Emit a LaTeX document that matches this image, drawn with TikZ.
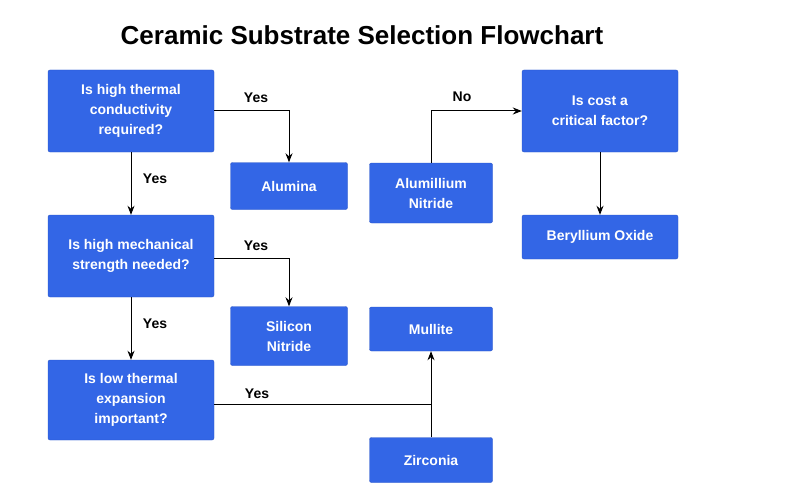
\documentclass[tikz,border=0pt]{standalone}
\usepackage{fontspec}
\setmainfont{Liberation Sans}
\usetikzlibrary{positioning,arrows.meta}
\definecolor{boxblue}{HTML}{3366E6}
\definecolor{boxedge}{HTML}{2A55C8}
\tikzset{
	box/.style={draw=boxedge, fill=boxblue, rounded corners=2pt, text=white, align=center,
		font=\fontsize{14}{20}\selectfont\bfseries, inner sep=2pt},
	arr/.style={-{Stealth[length=9pt,width=7pt]}, line width=1pt},
	lin/.style={line width=1pt},
	lbl/.style={font=\fontsize{14}{16}\selectfont\bfseries}
}
\begin{document}
\begin{tikzpicture}[x=1pt,y=-1pt]
		\useasboundingbox (0,0) rectangle (800,500);
		\node[font=\fontsize{26}{30}\selectfont\bfseries] (title) at (362,35) {Ceramic Substrate Selection Flowchart};
		
		% questions
		\node[box, minimum width=166, minimum height=82] (thermal) at (131,111) {Is high thermal\\conductivity\\required?};
		\node[box, minimum width=166, minimum height=82] (strength) at (131,256) {Is high mechanical\\strength needed?};
		\node[box, minimum width=166, minimum height=80] (expansion) at (131,400) {Is low thermal\\expansion\\important?};
		\node[box, minimum width=156, minimum height=82] (cost) at (600,111) {Is cost a\\critical factor?};
		
		% materials
		\node[box, minimum width=117, minimum height=47] (alumina) at (289,186) {Alumina};
		\node[box, minimum width=117, minimum height=59] (silicon) at (289,336) {Silicon\\Nitride};
		\node[box, minimum width=123, minimum height=60] (aln) at (431,193) {Alumillium\\Nitride};
		\node[box, minimum width=156, minimum height=44] (beo) at (600,237) {Beryllium Oxide};
		\node[box, minimum width=123, minimum height=44] (mullite) at (431,329) {Mullite};
		\node[box, minimum width=123, minimum height=45] (zirconia) at (431,460) {Zirconia};
		
		\coordinate (j1) at (289,111);
		\coordinate (j2) at (289,258);
		\coordinate (j3) at (431,404);
		\coordinate (j4) at (431,111);
		
		\draw[arr] (thermal.east) -- (j1) -- (alumina.north);
		\node[lbl] (y1) at (256,98) {Yes};
		\draw[arr] (thermal.south) -- (strength.north);
		\node[lbl] (y2) at (155,179) {Yes};
		\draw[arr] (strength.east |- j2) -- (j2) -- (silicon.north);
		\node[lbl] (y3) at (256,246) {Yes};
		\draw[arr] (strength.south) -- (expansion.north);
		\node[lbl] (y4) at (155,324) {Yes};
		\draw[lin] (expansion.east |- j3) -- (j3);
		\draw[arr] (zirconia.north) -- (mullite.south);
		\node[lbl] (y5) at (257,394) {Yes};
		\draw[arr] (aln.north) -- (j4) -- (cost.west);
		\node[lbl] (n1) at (462,97) {No};
		\draw[arr] (cost.south) -- (beo.north);
	\end{tikzpicture}
\end{document}
